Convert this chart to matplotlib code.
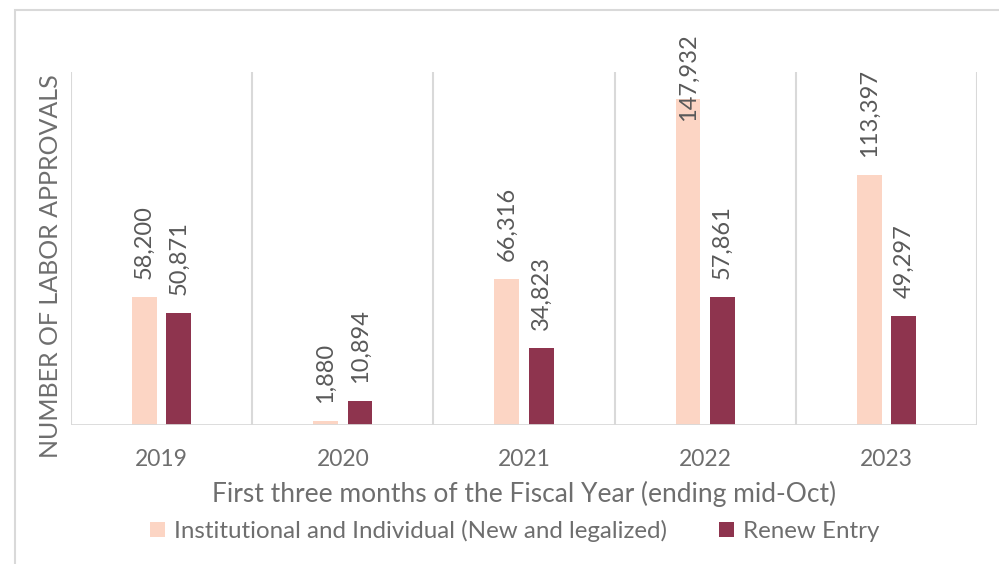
import matplotlib
matplotlib.use("Agg")
import matplotlib.pyplot as plt
from matplotlib.patches import Rectangle
import numpy as np

years = ["2019", "2020", "2021", "2022", "2023"]
institutional = [58200, 1880, 66316, 147932, 113397]
renew = [50871, 10894, 34823, 57861, 49297]
series_names = ["Institutional and Individual (New and legalized)", "Renew Entry"]

PINK = "#FCD5C4"
MAROON = "#8E344E"
GRID = "#D9D9D9"
TEXT = "#6E6E6E"
LABEL = "#595959"

plt.rcParams["font.family"] = ["Lato", "DejaVu Sans"]

W, H = 999, 564
fig = plt.figure(figsize=(W / 100, H / 100), dpi=100)

# outer chart frame
fig.patches.append(Rectangle((14.5 / W, -0.05), 1.1, 1 - 9.5 / H + 0.05,
                             transform=fig.transFigure, fill=False,
                             edgecolor=GRID, linewidth=1.5))

ax = fig.add_axes([71 / W, 1 - 425 / H, (977 - 71) / W, (425 - 72) / H])
x = np.arange(len(years))
bw = 0.137
off = 0.095
b1 = ax.bar(x - off, institutional, bw, color=PINK, label=series_names[0], zorder=3)
b2 = ax.bar(x + off, renew, bw, color=MAROON, label=series_names[1], zorder=3)

ax.set_xlim(-0.5, len(years) - 0.5)
ax.set_ylim(0, 160000)
for s in ax.spines.values():
    s.set_visible(False)
ax.set_yticks([])
ax.set_xticks(x)
ax.set_xticklabels(years, fontsize=16.5, color=TEXT)
ax.tick_params(axis="x", length=0, pad=17)
for b in np.arange(len(years) + 1) - 0.5:
    ax.axvline(b, color=GRID, linewidth=1.5, zorder=1)
ax.axhline(0, color=GRID, linewidth=2, zorder=4)

ax.set_xlabel("First three months of the Fiscal Year (ending mid-Oct)",
              fontsize=19, color=TEXT, labelpad=8)

# vertical axis title, centred at a fixed pixel position left of the plot
fig.text(51 / W, 1 - 266 / H, "NUMBER OF LABOR APPROVALS", fontsize=18,
         color=TEXT, rotation=90, ha="center", va="center")

labels = []
for bars, vals in ((b1, institutional), (b2, renew)):
    for rect, v in zip(bars, vals):
        t = ax.annotate(f"{v:,}", (rect.get_x() + rect.get_width() / 2, v),
                        xytext=(0, 13), textcoords="offset points",
                        rotation=90, ha="center", va="bottom",
                        fontsize=17, color=LABEL, zorder=5,
                        annotation_clip=False)
        labels.append(t)

# keep value labels inside the chart frame
fig.canvas.draw()
r = fig.canvas.get_renderer()
top_limit = H - 33
for t in labels:
    bb = t.get_window_extent(r)
    if bb.y1 > top_limit:
        dx, dy = t.xyann
        t.xyann = (dx, dy - (bb.y1 - top_limit) * 72 / 100)

ax.legend(handles=[b1, b2], loc="center", bbox_to_anchor=(0.490, -0.30),
          ncol=2, frameon=False, fontsize=17.4, labelcolor=TEXT,
          handlelength=0.6, handleheight=0.6, handletextpad=0.4,
          columnspacing=2.15)

fig.savefig("out.png", dpi=100)
